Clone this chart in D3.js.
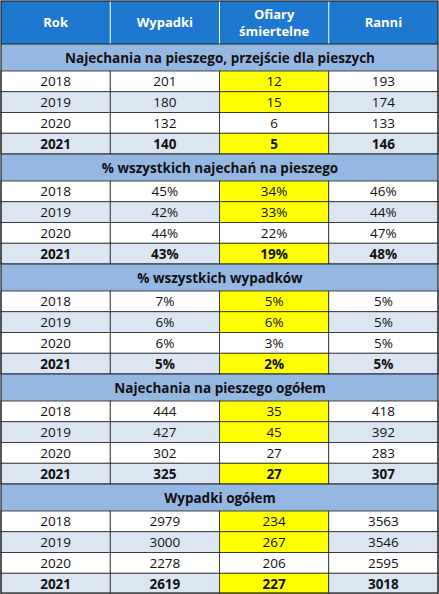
<!DOCTYPE html><html><head><meta charset="utf-8"><script src="https://cdn.jsdelivr.net/npm/d3@7"></script>
<style>body{margin:0;background:#fff}</style></head><body><svg id="c" width="439" height="594"></svg>
<script>
const headers=["Rok","Wypadki","Ofiary\nśmiertelne","Ranni"];
const years=["2018","2019","2020","2021"];
const sections=["Najechania na pieszego, przejście dla pieszych","% wszystkich najechań na pieszego","% wszystkich wypadków","Najechania na pieszego ogółem","Wypadki ogółem"];
const wypadki=[["201","180","132","140"],["45%","42%","44%","43%"],["7%","6%","6%","5%"],["444","427","302","325"],["2979","3000","2278","2619"]];
const ofiary=[["12","15","6","5"],["34%","33%","22%","19%"],["5%","6%","3%","2%"],["35","45","27","27"],["234","267","206","227"]];
const ranni=[["193","174","133","146"],["46%","44%","47%","48%"],["5%","5%","5%","5%"],["418","392","283","307"],["3563","3546","2595","3018"]];
const svg=d3.select("#c"),F="'Open Sans',sans-serif";
const x=d3.scaleLinear().domain([0,4]).range([1,438]);
const H=44,secH=110,sh=27,rh=(secH-sh)/4;
svg.append("rect").attr("x",x(0)).attr("y",1).attr("width",x(4)-x(0)).attr("height",H-1).attr("fill","#1f78cf");
headers.forEach((h,i)=>{const t=svg.append("text").attr("x",(x(i)+x(i+1))/2).attr("text-anchor","middle").attr("fill","#fff").attr("font-weight","bold").attr("font-family",F).attr("font-size",13);
 const ls=h.split("\n");ls.forEach((l,j)=>t.append("tspan").attr("x",(x(i)+x(i+1))/2).attr("y",H/2+5+(j-(ls.length-1)/2)*17).text(l));
 if(i>0)svg.append("line").attr("x1",x(i)).attr("x2",x(i)).attr("y1",1).attr("y2",H).attr("stroke","#fff");});
sections.forEach((s,si)=>{const y0=H+si*secH;
 svg.append("rect").attr("x",x(0)).attr("y",y0).attr("width",x(4)-x(0)).attr("height",sh).attr("fill","#95b8e3");
 svg.append("text").attr("x",220).attr("y",y0+sh/2+5).attr("text-anchor","middle").attr("font-weight","bold").attr("font-family",F).attr("font-size",13.5).attr("fill","#111").text(s);
 svg.append("line").attr("x1",x(0)).attr("x2",x(4)).attr("y1",y0).attr("y2",y0).attr("stroke","#222");
 years.forEach((yr,r)=>{const y=y0+sh+r*rh;const vals=[yr,wypadki[si][r],ofiary[si][r],ranni[si][r]];
  vals.forEach((v,c)=>{const fill=(c==2&&r!=2)?"#ffff00":(r%2?"#dce6f2":"#fff");
   svg.append("rect").attr("x",x(c)).attr("y",y).attr("width",x(c+1)-x(c)).attr("height",rh).attr("fill",fill).attr("stroke","#222").attr("stroke-width",0.8);
   svg.append("text").attr("x",(x(c)+x(c+1))/2).attr("y",y+rh/2+5).attr("text-anchor","middle").attr("font-family",F).attr("font-size",13.5).attr("font-weight",r==3?"bold":"normal").attr("fill","#111").text(v);});});});
svg.append("rect").attr("x",x(0)).attr("y",1).attr("width",x(4)-x(0)).attr("height",592).attr("fill","none").attr("stroke","#222").attr("stroke-width",1.2);
</script></body></html>
